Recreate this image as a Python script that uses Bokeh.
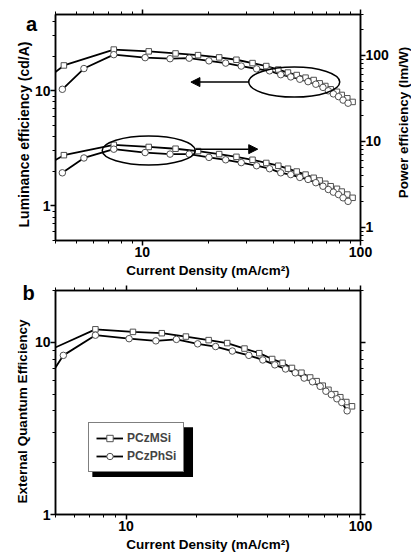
import math
from bokeh.plotting import figure
from bokeh.models import (LogAxis, Range1d, LogScale, FixedTicker, Arrow, NormalHead,
                          Label, Legend, LegendItem, BoxAnnotation, CustomJSTickFormatter)
from bokeh.layouts import column
from bokeh.embed import file_html
from bokeh.resources import INLINE

FONT = "Liberation Sans"

# ---------------- data ----------------
# PCzMSi (open squares)
msi_j = [3.5, 4.37, 7.4, 10.7, 14.2, 18.0, 22.5, 27.0, 32.0, 37.0, 42.0, 46.5, 51.0,
         56.0, 61.0, 65.0, 69.0, 73.0, 78.0, 82.0, 87.0, 92.0]
msi_le = [12.0, 16.6, 22.8, 22.0, 21.1, 20.4, 19.5, 18.6, 17.4, 16.4, 15.3, 14.4, 13.7,
          13.0, 12.4, 11.6, 11.0, 10.3, 9.8, 9.2, 8.6, 8.0]
msi_pe = [5.0, 6.9, 9.1, 8.6, 8.2, 7.7, 7.1, 6.6, 6.1, 5.6, 5.2, 4.8, 4.45,
          4.1, 3.76, 3.5, 3.2, 3.0, 2.8, 2.6, 2.4, 2.2]
msi_eqe = [6.3, 8.6, 11.9, 11.5, 11.3, 10.8, 10.3, 9.9, 9.2, 8.65, 8.0, 7.6, 7.1,
           6.66, 6.25, 5.95, 5.6, 5.3, 5.0, 4.8, 4.5, 4.25]

# PCzPhSi (open circles)
phsi_j = [4.3, 5.4, 7.4, 10.3, 13.4, 16.4, 20.2, 24.1, 28.4, 33.4, 38.3, 43.1, 47.9,
          52.7, 57.5, 62.4, 67.3, 71.2, 75.1, 79.3, 83.2, 87.7]
phsi_le = [10.3, 15.6, 20.6, 19.4, 19.0, 19.2, 18.2, 17.4, 16.4, 15.5, 14.9, 13.8, 13.2,
           12.6, 12.0, 11.4, 10.7, 10.0, 9.4, 8.9, 8.3, 7.8]
phsi_pe = [4.3, 6.4, 8.1, 7.4, 7.1, 7.1, 6.5, 6.1, 5.65, 5.2, 4.8, 4.3, 4.1,
           3.8, 3.6, 3.3, 3.0, 2.75, 2.56, 2.4, 2.2, 2.0]
phsi_eqe = [5.2, 8.4, 11.0, 10.5, 10.2, 10.4, 9.8, 9.45, 8.9, 8.4, 7.9, 7.4, 7.0,
            6.65, 6.2, 5.9, 5.55, 5.2, 4.97, 4.7, 4.47, 4.0]

series_names = ["PCzMSi", "PCzPhSi"]

# ---------------- ticks ----------------
x_major = [10, 100]
x_minor_a = [4, 5, 6, 7, 8, 9, 20, 30, 40, 50, 60, 70, 80, 90]
x_minor_b = [5, 6, 7, 8, 9, 20, 30, 40, 50, 60, 70, 80, 90]
le_major = [1, 10]
le_minor = [0.5, 0.6, 0.7, 0.8, 0.9, 2, 3, 4, 5, 6, 7, 8, 9, 20, 30, 40]
pe_major = [1, 10, 100]
pe_minor = [0.7, 0.8, 0.9, 2, 3, 4, 5, 6, 7, 8, 9, 20, 30, 40, 50, 60, 70, 80, 90, 200, 300]
eqe_major = [1, 10]
eqe_minor = [2, 3, 4, 5, 6, 7, 8, 9, 20]

# ---------------- text / annotation positions ----------------
ell1 = dict(x=49.7, y=11.9, w=91, h=30)
arr1 = dict(x0=30.8, x1=16.7, y=11.9)
ell2 = dict(x=10.7, y=3.03, w=93, h=29)
arr2 = dict(x0=17.6, x1=33.8, y=3.11)
label_a = dict(x=31, y=23)          # canvas px of panel a
title_le = dict(x=23.5, y=134)      # canvas px of panel a
title_pe = dict(x=403, y=122)       # canvas px of panel a
label_b = dict(x=28, y=12)          # canvas px of panel b
title_eqe = dict(x=22, y=131)       # canvas px of panel b
shadow_b = dict(left=7.18, right=19.3, bottom=1.652, top=3.216)

LINE_W = 1.8
MK_LINE = "#505050"


def style_axis(ax, labels=True):
    ax.axis_line_width = 1.5
    ax.axis_line_color = "black"
    ax.major_tick_out = 5
    ax.major_tick_in = 0
    ax.minor_tick_out = 3
    ax.minor_tick_in = 0
    ax.major_tick_line_width = 1.5
    ax.minor_tick_line_width = 1
    ax.major_label_text_font = FONT
    ax.major_label_text_font_style = "bold"
    ax.major_label_text_font_size = "14px"
    ax.major_label_text_color = "black"
    ax.major_label_standoff = 1
    ax.axis_label_text_font = FONT
    ax.axis_label_text_font_style = "bold"
    ax.axis_label_text_font_size = "13.5px"
    ax.axis_label_text_color = "black"
    ax.axis_label_standoff = 3
    if labels:
        ax.formatter = CustomJSTickFormatter(code="return String(tick)")
    else:
        ax.formatter = CustomJSTickFormatter(code="return ''")
        ax.major_label_standoff = 0


def make_fig(xr, yr, height, top, bottom, right):
    p = figure(width=411, height=height, x_axis_type="log", y_axis_type="log",
               x_range=Range1d(*xr), y_range=Range1d(*yr), title=None,
               output_backend="svg", toolbar_location=None,
               min_border_left=55, min_border_right=right,
               min_border_top=top, min_border_bottom=bottom)
    p.xgrid.visible = False
    p.ygrid.visible = False
    p.outline_line_color = "black"
    p.outline_line_width = 1.5
    p.background_fill_color = "white"
    p.border_fill_color = "white"
    return p


def text_label(x, y, text, size, angle=0.0):
    return Label(x=x, y=y, x_units="canvas", y_units="canvas", text=text, angle=angle,
                 text_font=FONT, text_font_style="bold", text_font_size=size,
                 text_color="black", text_align="center", text_baseline="middle",
                 text_line_height=0.7)


# ================= panel a =================
p1 = make_fig((4, 100), (0.5, 46), 280, 14, 39, 51)
p1.extra_y_ranges = {"pe": Range1d(0.7, 300)}
p1.extra_y_scales = {"pe": LogScale()}

bx = p1.below[0]
bx.ticker = FixedTicker(ticks=x_major, minor_ticks=x_minor_a)
bx.axis_label = "Current Density (mA/cm²)"
style_axis(bx)
ly = p1.left[0]
ly.ticker = FixedTicker(ticks=le_major, minor_ticks=le_minor)
style_axis(ly)
ly.major_label_standoff = 0

ry = LogAxis(y_range_name="pe", ticker=FixedTicker(ticks=pe_major, minor_ticks=pe_minor))
style_axis(ry)
ry.major_label_standoff = 0
p1.add_layout(ry, "right")
tx = LogAxis(ticker=FixedTicker(ticks=x_major, minor_ticks=x_minor_a))
style_axis(tx, labels=False)
p1.add_layout(tx, "above")

p1.line(msi_j, msi_le, line_color="black", line_width=LINE_W)
p1.line(phsi_j, phsi_le, line_color="black", line_width=LINE_W)
p1.line(msi_j, msi_pe, line_color="black", line_width=LINE_W, y_range_name="pe")
p1.line(phsi_j, phsi_pe, line_color="black", line_width=LINE_W, y_range_name="pe")
p1.scatter(msi_j, msi_le, marker="square", size=5.5, fill_color="white", line_color=MK_LINE, line_width=1)
p1.scatter(phsi_j, phsi_le, marker="circle", size=6.5, fill_color="white", line_color=MK_LINE, line_width=1)
p1.scatter(msi_j, msi_pe, marker="square", size=5.5, fill_color="white", line_color=MK_LINE, line_width=1,
           y_range_name="pe")
p1.scatter(phsi_j, phsi_pe, marker="circle", size=6.5, fill_color="white", line_color=MK_LINE, line_width=1,
           y_range_name="pe")

p1.ellipse(x=[ell1["x"]], y=[ell1["y"]], width=ell1["w"], height=ell1["h"],
           width_units="screen", height_units="screen", fill_alpha=0,
           line_color="black", line_width=1.5)
p1.ellipse(x=[ell2["x"]], y=[ell2["y"]], width=ell2["w"], height=ell2["h"],
           width_units="screen", height_units="screen", fill_alpha=0,
           line_color="black", line_width=1.5)
p1.add_layout(Arrow(end=NormalHead(size=9, fill_color="black", line_color="black"),
                    x_start=arr1["x0"], y_start=arr1["y"], x_end=arr1["x1"], y_end=arr1["y"],
                    line_width=1.5, line_color="black"))
p1.add_layout(Arrow(end=NormalHead(size=9, fill_color="black", line_color="black"),
                    x_start=arr2["x0"], y_start=arr2["y"], x_end=arr2["x1"], y_end=arr2["y"],
                    line_width=1.5, line_color="black"))
p1.add_layout(text_label(label_a["x"], label_a["y"], "a", "20px"), "left")
p1.add_layout(text_label(title_le["x"], title_le["y"], "Luminance efficiency (cd/A)", "14px",
                         angle=math.pi / 2), "left")
p1.add_layout(text_label(title_pe["x"], title_pe["y"], "Power efficiency (lm/W)", "13.5px",
                         angle=math.pi / 2), "right")

# ================= panel b =================
p2 = make_fig((5, 100), (1, 20), 274, 10, 39, 49)
bx2 = p2.below[0]
bx2.ticker = FixedTicker(ticks=x_major, minor_ticks=x_minor_b)
bx2.axis_label = "Current Density (mA/cm²)"
style_axis(bx2)
ly2 = p2.left[0]
ly2.ticker = FixedTicker(ticks=eqe_major, minor_ticks=eqe_minor)
style_axis(ly2)
ly2.major_label_standoff = 0
tx2 = LogAxis(ticker=FixedTicker(ticks=x_major, minor_ticks=x_minor_b))
style_axis(tx2, labels=False)
p2.add_layout(tx2, "above")
ry2 = LogAxis(ticker=FixedTicker(ticks=eqe_major, minor_ticks=eqe_minor))
style_axis(ry2, labels=False)
p2.add_layout(ry2, "right")

l1 = p2.line(msi_j, msi_eqe, line_color="black", line_width=LINE_W)
l2 = p2.line(phsi_j, phsi_eqe, line_color="black", line_width=LINE_W)
s1 = p2.scatter(msi_j, msi_eqe, marker="square", size=5.5, fill_color="white", line_color=MK_LINE, line_width=1)
s2 = p2.scatter(phsi_j, phsi_eqe, marker="circle", size=6.5, fill_color="white", line_color=MK_LINE, line_width=1)

p2.add_layout(BoxAnnotation(left=shadow_b["left"], right=shadow_b["right"],
                            bottom=shadow_b["bottom"], top=shadow_b["top"],
                            fill_color="black", fill_alpha=1, line_alpha=0))
legend = Legend(items=[LegendItem(label=series_names[0], renderers=[l1, s1]),
                       LegendItem(label=series_names[1], renderers=[l2, s2])],
                location=(33, 42), border_line_color="black", border_line_width=1,
                background_fill_color="white", background_fill_alpha=1,
                label_text_font=FONT, label_text_font_style="bold", label_text_font_size="12px",
                glyph_width=27, glyph_height=16, label_height=16, spacing=2,
                padding=7, label_standoff=4, margin=0)
p2.add_layout(legend)
p2.add_layout(text_label(label_b["x"], label_b["y"], "b", "20px"), "left")
p2.add_layout(text_label(title_eqe["x"], title_eqe["y"], "External Quantum Efficiency", "13.5px",
                         angle=math.pi / 2), "left")

layout = column(p1, p2, spacing=0)
open("out.html", "w").write(file_html(layout, INLINE))
